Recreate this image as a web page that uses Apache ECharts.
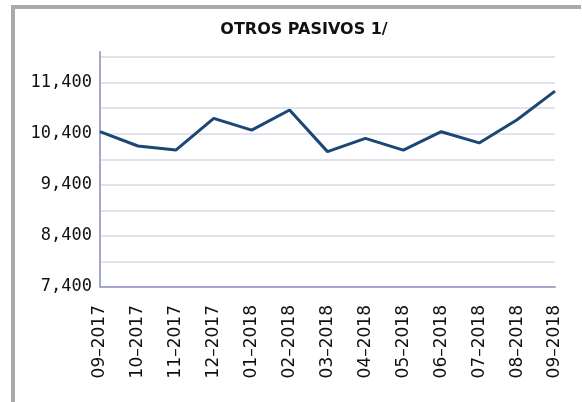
<!DOCTYPE html>
<html>
<head>
<meta charset="utf-8">
<title>OTROS PASIVOS 1/</title>
<script src="https://cdn.jsdelivr.net/npm/echarts@6/dist/echarts.min.js"></script>
<style>
  html, body { margin: 0; padding: 0; background: #fff; }
  #main { width: 582px; height: 402px; }
</style>
</head>
<body>
<div id="main"></div>
<script>
    // datos
    var meses = ['09-2017', '10-2017', '11-2017', '12-2017', '01-2018', '02-2018', '03-2018',
                 '04-2018', '05-2018', '06-2018', '07-2018', '08-2018', '09-2018'];
    var valores = [10440, 10160, 10080, 10700, 10470, 10865, 10050, 10310, 10080, 10440, 10220, 10675, 11235];
    var yMin = 7400;
    var yMax = 12000;
    var yPaso = 500;

    var myChart = echarts.init(document.getElementById('main'));
    var option = {
        animation: false,
        title: {
            text: 'OTROS PASIVOS 1/',
            left: 299,
            top: 17,
            textAlign: 'center',
            textStyle: { fontFamily: 'DejaVu Sans', fontSize: 16, fontWeight: 'bold', color: '#111' }
        },
        // marco gris
        graphic: [
            { type: 'rect', shape: { x: 11, y: 5, width: 570, height: 4 }, style: { fill: '#a9a9a9' } },
            { type: 'rect', shape: { x: 11, y: 5, width: 4, height: 397 }, style: { fill: '#a9a9a9' } }
        ],
        grid: { left: 100, top: 52, right: 27, bottom: 115 },
        xAxis: {
            type: 'category',
            data: meses,
            boundaryGap: false,
            axisLine: { lineStyle: { color: '#a3a6cf', width: 2 } },
            axisTick: { show: false },
            axisLabel: {
                rotate: 90,
                margin: 18,
                fontFamily: 'DejaVu Sans',
                fontSize: 17,
                color: '#111',
                formatter: function (v) { return v.replace('-', '–'); }
            }
        },
        yAxis: {
            type: 'value',
            min: yMin,
            max: yMax,
            interval: yPaso,
            axisLine: { show: true, lineStyle: { color: '#a3a6cf', width: 2 } },
            axisTick: { show: false },
            splitLine: { showMaxLine: false, lineStyle: { color: '#e3e3f0', width: 2 } },
            axisLabel: {
                margin: 8,
                fontFamily: 'DejaVu Sans Mono',
                fontSize: 17,
                color: '#111',
                formatter: function (v) {
                    if ((v - yMin) % 1000 !== 0) return '';
                    return v.toLocaleString('en-US');
                }
            }
        },
        series: [{
            type: 'line',
            data: valores,
            symbol: 'none',
            lineStyle: { color: '#1b4774', width: 3 }
        }]
    };
    myChart.setOption(option);
</script>
</body>
</html>
